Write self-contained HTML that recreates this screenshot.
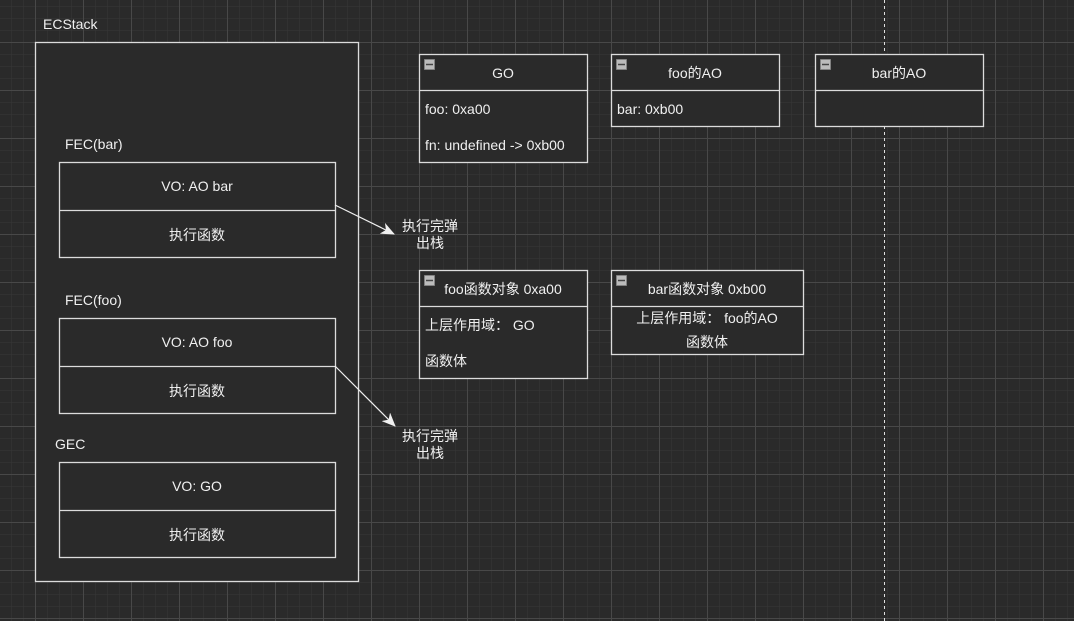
<!DOCTYPE html>
<html><head><meta charset="utf-8"><style>
body{margin:0;background:#2a2a2a;}
svg{display:block}
text{font-family:"Liberation Sans","Noto Sans CJK SC",sans-serif;font-size:14px;fill:#f0f0f0}
</style></head><body>
<svg width="1074" height="621" xmlns="http://www.w3.org/2000/svg">
<defs>
<pattern id="minor" x="11" y="6" width="12" height="12" patternUnits="userSpaceOnUse"><path d="M0 0H12M0 0V12" stroke="#383838" stroke-width="1" fill="none"/></pattern>
<pattern id="major" x="35" y="42" width="48" height="48" patternUnits="userSpaceOnUse"><path d="M0 0.5H48M0.5 0V48" stroke="#484848" stroke-width="1" fill="none"/></pattern>
<marker id="ar" markerWidth="14" markerHeight="12" refX="13" refY="6" orient="auto" markerUnits="userSpaceOnUse"><path d="M0 0L14 6L0 12L4 6Z" fill="#f0f0f0"/></marker>
</defs>
<rect width="1074" height="621" fill="#2a2a2a"/>
<rect width="1074" height="621" fill="url(#minor)"/>
<rect width="1074" height="621" fill="url(#major)"/>
<line x1="884.5" y1="0" x2="884.5" y2="621" stroke="#e0e0e0" stroke-dasharray="3,3"/>
<g stroke="#dcdcdc" stroke-width="1.3" fill="#2a2a2a">
<rect x="35.5" y="42.5" width="323" height="539"/>
<rect x="59.5" y="162.5" width="276" height="95"/><line x1="59.5" y1="210.5" x2="335.5" y2="210.5"/>
<rect x="59.5" y="318.5" width="276" height="95"/><line x1="59.5" y1="366.5" x2="335.5" y2="366.5"/>
<rect x="59.5" y="462.5" width="276" height="95"/><line x1="59.5" y1="510.5" x2="335.5" y2="510.5"/>
<rect x="419.5" y="54.5" width="168" height="108"/><line x1="419.5" y1="90.5" x2="587.5" y2="90.5"/>
<rect x="611.5" y="54.5" width="168" height="72"/><line x1="611.5" y1="90.5" x2="779.5" y2="90.5"/>
<rect x="815.5" y="54.5" width="168" height="72"/><line x1="815.5" y1="90.5" x2="983.5" y2="90.5"/>
<rect x="419.5" y="270.5" width="168" height="108"/><line x1="419.5" y1="306.5" x2="587.5" y2="306.5"/>
<rect x="611.5" y="270.5" width="192" height="84"/><line x1="611.5" y1="306.5" x2="803.5" y2="306.5"/>
</g>
<g fill="#bbb" stroke="#888" stroke-width="0.8">
<rect x="424.5" y="59.5" width="10" height="10"/><rect x="616.5" y="59.5" width="10" height="10"/><rect x="820.5" y="59.5" width="10" height="10"/>
<rect x="424.5" y="275.5" width="10" height="10"/><rect x="616.5" y="275.5" width="10" height="10"/>
</g>
<g stroke="#444" stroke-width="1.5"><line x1="426" y1="64.5" x2="433" y2="64.5"/><line x1="618" y1="64.5" x2="625" y2="64.5"/><line x1="822" y1="64.5" x2="829" y2="64.5"/><line x1="426" y1="280.5" x2="433" y2="280.5"/><line x1="618" y1="280.5" x2="625" y2="280.5"/></g>
<g stroke="#f0f0f0" stroke-width="1.2" fill="none">
<line x1="335" y1="205" x2="394" y2="234" marker-end="url(#ar)"/>
<line x1="335" y1="366" x2="395" y2="426" marker-end="url(#ar)"/>
</g>
<text x="43" y="29">ECStack</text>
<text x="65" y="149">FEC(bar)</text>
<text x="65" y="305">FEC(foo)</text>
<text x="55" y="449">GEC</text>
<g text-anchor="middle">
<text x="197" y="191">VO: AO bar</text><text x="197" y="240">执行函数</text>
<text x="197" y="347">VO: AO foo</text><text x="197" y="396">执行函数</text>
<text x="197" y="491">VO: GO</text><text x="197" y="540">执行函数</text>
<text x="430" y="231">执行完弹</text><text x="430" y="248">出栈</text>
<text x="430" y="441">执行完弹</text><text x="430" y="458">出栈</text>
<text x="503" y="78">GO</text>
<text x="695" y="78">foo的AO</text>
<text x="899" y="78">bar的AO</text>
<text x="503" y="294">foo函数对象 0xa00</text>
<text x="707" y="294">bar函数对象 0xb00</text>
<text x="707" y="323">上层作用域：  foo的AO</text>
<text x="707" y="347">函数体</text>
</g>
<text x="425" y="114">foo:  0xa00</text>
<text x="425" y="150">fn: undefined -&gt; 0xb00</text>
<text x="617" y="114">bar: 0xb00</text>
<text x="425" y="330">上层作用域：  GO</text>
<text x="425" y="366">函数体</text>
</svg>
</body></html>
